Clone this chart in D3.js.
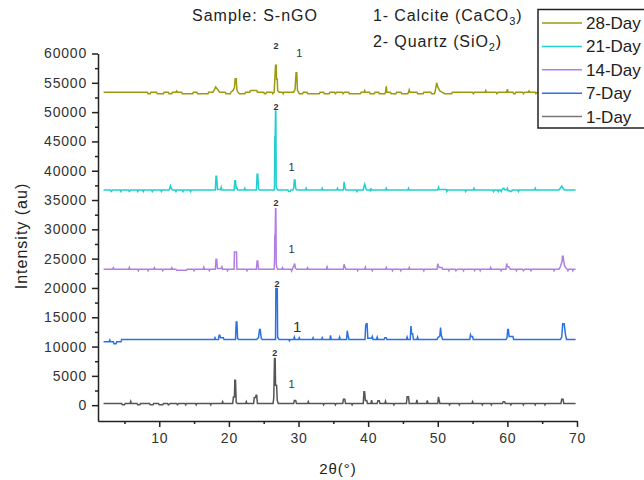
<!DOCTYPE html>
<html>
<head>
<meta charset="utf-8">
<script src="https://cdn.jsdelivr.net/npm/d3@7"></script>
<style>
  html, body { margin: 0; padding: 0; background: #fff; }
  svg { display: block; font-family: Arial, "Liberation Sans", sans-serif; }
</style>
</head>
<body>
<svg id="chart" width="644" height="480"></svg>
<script>
// XRD patterns of sample S-nGO after different curing ages.
// Each series: [2θ (degrees), intensity (a.u., stacked offset included)].
const seriesNames = ["28-Day", "21-Day", "14-Day", "7-Day", "1-Day"];
const seriesColors = ["#9c9a0c", "#22cfd0", "#b27ee2", "#2a72e2", "#555555"];
const legendLineColors = ["#9c9a0c", "#22cfd0", "#b27ee2", "#2a72e2", "#777777"];

const xTicks = [10, 20, 30, 40, 50, 60, 70];
const xMinorTicks = [5, 15, 25, 35, 45, 55, 65];
const yTicks = [0, 5000, 10000, 15000, 20000, 25000, 30000, 35000, 40000, 45000, 50000, 55000, 60000];
const yMinorTicks = [2500, 7500, 12500, 17500, 22500, 27500, 32500, 37500, 42500, 47500, 52500, 57500];

const day28 = [
  [2.0,53400],[8.3,53400],[8.4,53150],[8.7,53150],[8.8,53400],[9.6,53400],[9.7,53150],[10.6,53150],[10.7,53400],
  [11.3,53400],[11.4,53150],[11.8,53150],[11.9,53400],[12.4,53400],[12.5,53600],[12.6,53400],[13.2,53400],[13.3,53150],
  [14.8,53150],[14.9,53400],[15.4,53400],[15.5,53150],[17.0,53150],[17.1,53400],[17.7,53400],[17.9,53800],[18.1,54300],
  [18.3,54000],[18.5,53700],[18.7,53400],[19.5,53400],[19.6,53150],[20.2,53150],[20.3,53400],[20.6,53700],[20.8,54200],
  [20.9,55700],[21.05,55700],[21.15,53800],[21.3,53400],[21.5,53150],[22.3,53150],[22.4,53400],[23.0,53400],[23.1,53700],
  [24.0,53700],[24.1,53400],[25.0,53400],[25.1,53150],[25.3,53150],[25.4,53400],[26.2,53400],[26.3,53150],[26.5,53400],
  [26.6,55600],[26.7,58000],[26.8,58000],[26.85,55600],[26.95,55600],[27.0,53700],[27.2,53400],[27.7,53400],[27.8,53150],
  [27.9,53400],[29.3,53400],[29.5,53900],[29.65,56700],[29.75,56700],[29.85,53700],[30.0,53400],[30.1,53150],[30.6,53150],
  [30.7,53400],[31.2,53400],[31.3,53150],[33.0,53150],[33.1,53400],[33.6,53400],[33.7,53150],[34.4,53150],[34.5,53400],
  [35.2,53400],[35.3,53150],[35.5,53400],[36.3,53400],[36.4,53150],[36.6,53400],[37.2,53400],[37.3,53150],[38.9,53150],
  [39.0,53400],[39.4,53400],[39.5,53700],[39.6,53400],[40.2,53400],[40.3,53150],[40.9,53150],[41.0,53400],[41.5,53400],
  [41.6,53150],[42.4,53150],[42.5,53400],[42.6,54400],[42.7,53400],[43.2,53400],[43.3,53150],[44.0,53150],[44.1,53400],
  [44.7,53400],[44.8,53150],[45.7,53150],[45.8,53400],[45.9,53800],[46.0,53400],[47.0,53400],[47.1,53150],[47.9,53150],
  [48.0,53400],[49.0,53400],[49.1,53150],[49.5,53150],[49.6,53400],[49.85,55000],[50.0,54300],[50.3,53600],[50.6,53400],
  [51.0,53150],[52.0,53150],[52.1,53400],[55.0,53400],[55.1,53150],[55.3,53400],[56.8,53400],[56.9,53700],[57.0,53400],
  [58.4,53400],[58.5,53150],[58.7,53400],[59.9,53400],[60.0,53900],[60.1,53400],[60.8,53400],[60.9,53150],[61.1,53150],
  [61.2,53400],[62.2,53400],[62.3,53150],[62.5,53400],[63.0,53400],[63.1,53600],[63.2,53400],[64.0,53400],[64.1,53150],
  [64.3,53400],[69.8,53400]
];

const day21 = [
  [2.0,36700],[3.0,36700],[3.1,36450],[3.3,36700],[4.4,36700],[4.5,36450],[4.6,36700],[5.6,36700],[5.7,36450],[5.9,36700],
  [6.8,36700],[6.9,36450],[7.0,36700],[7.6,36700],[7.7,36450],[7.8,36700],[8.9,36700],[9.0,36450],[9.1,36700],[10.2,36700],
  [10.3,36450],[10.4,36700],[11.4,36700],[11.5,37000],[11.6,37400],[11.7,37000],[11.9,36700],[12.3,36700],[12.4,36450],
  [12.5,36700],[13.3,36700],[13.4,36450],[13.5,36700],[14.4,36700],[14.5,36450],[14.6,36700],[18.05,36700],[18.15,39070],
  [18.25,39070],[18.35,36800],[18.8,36800],[18.9,37200],[19.0,36700],[20.75,36700],[20.85,38270],[20.95,38270],[21.05,36900],
  [21.15,37300],[21.25,36700],[22.2,36700],[22.3,37000],[22.4,36700],[23.95,36700],[24.05,39400],[24.15,39400],[24.25,36900],
  [24.4,36700],[26.5,36700],[26.55,37400],[26.6,45800],[26.65,45800],[26.7,50200],[26.75,50200],[26.8,37200],[26.9,36900],
  [27.0,36700],[28.5,36700],[28.6,36450],[28.8,36450],[28.9,36700],[29.2,36700],[29.3,37000],[29.4,38400],[29.5,38400],
  [29.6,36900],[29.8,36700],[31.0,36700],[31.1,37000],[31.2,36700],[33.3,36700],[33.4,37000],[33.5,36700],[35.5,36700],
  [35.6,37000],[35.7,36700],[36.45,36700],[36.55,38100],[36.65,37200],[36.8,36700],[38.3,36700],[38.4,36450],[38.5,36700],
  [39.3,36700],[39.4,37300],[39.5,37700],[39.6,37300],[39.7,36900],[39.8,36700],[40.3,36700],[40.35,36450],[40.4,37000],
  [40.5,36700],[42.5,36700],[42.6,37000],[42.7,36700],[45.7,36700],[45.8,37000],[45.9,36700],[50.0,36700],[50.1,37150],
  [50.2,36800],[51.2,36800],[51.3,36450],[51.4,36700],[53.9,36700],[54.0,36450],[54.1,36700],[55.1,36700],[55.2,37000],
  [55.3,36700],[57.9,36700],[58.0,36450],[58.1,36700],[58.6,36700],[58.7,36450],[58.8,36700],[59.0,36700],[59.1,36450],
  [59.2,36700],[59.3,36900],[59.5,37000],[59.6,36750],[59.9,36750],[60.0,37000],[60.1,36600],[60.3,36600],[60.4,36450],
  [60.6,36450],[60.7,36700],[61.5,36700],[61.6,36450],[61.7,36700],[63.9,36700],[64.0,37000],[64.1,36700],[67.4,36700],
  [67.6,37000],[67.8,37400],[68.0,37000],[68.2,36700],[69.8,36700]
];

const day14 = [
  [2.0,23200],[3.3,23200],[3.4,23450],[3.5,23200],[5.6,23200],[5.7,23500],[5.8,23200],[6.9,23200],[7.0,22950],[7.1,23200],
  [8.3,23200],[8.4,22950],[8.5,23200],[9.2,23200],[9.3,23450],[9.4,23200],[10.4,23200],[10.5,22950],[10.6,23200],[11.7,23200],
  [11.8,23450],[11.9,23200],[12.4,23200],[12.5,23000],[13.9,23000],[14.0,23200],[14.9,23200],[15.0,22950],[15.1,23200],
  [16.3,23200],[16.4,23550],[16.5,23200],[17.1,23200],[17.2,22950],[17.3,23200],[18.05,23200],[18.15,24900],[18.25,24900],
  [18.35,23300],[18.9,23300],[19.0,23600],[19.1,23200],[19.7,23200],[19.8,22950],[19.9,23200],[20.75,23200],[20.8,26150],
  [21.1,26150],[21.15,23200],[22.5,23200],[22.6,22950],[22.7,23200],[23.95,23200],[24.05,24600],[24.15,24600],[24.25,23200],
  [26.5,23200],[26.55,24400],[26.6,29000],[26.65,29000],[26.7,33500],[26.75,33500],[26.8,24000],[26.9,23500],[27.0,23200],
  [27.6,23200],[27.7,23450],[27.8,23200],[28.9,23200],[29.0,22900],[29.15,23300],[29.35,23800],[29.45,24170],[29.55,23400],
  [29.7,23200],[31.2,23200],[31.3,23450],[31.4,23200],[34.0,23200],[34.1,23600],[34.2,23200],[36.45,23200],[36.55,24050],
  [36.65,23600],[36.8,23200],[38.4,23200],[38.5,22950],[38.6,23200],[39.5,23200],[39.6,23550],[39.7,23200],[40.5,23200],
  [40.6,22950],[40.7,23200],[42.5,23200],[42.6,23500],[42.7,23200],[43.4,23200],[43.5,22950],[43.6,23200],[44.6,23200],
  [44.7,22950],[44.8,23200],[45.8,23200],[45.9,23500],[46.0,23200],[47.9,23200],[48.0,22950],[48.1,23200],[49.9,23200],
  [50.0,24140],[50.1,23800],[50.2,23500],[50.6,23500],[50.7,23200],[51.5,23200],[51.6,22950],[51.7,23200],[52.5,23200],
  [52.6,22950],[52.8,23200],[53.6,23200],[53.7,22950],[53.8,23200],[55.2,23200],[55.3,22950],[55.4,23200],[56.0,23200],
  [56.1,22950],[56.2,23200],[57.5,23200],[57.6,23500],[57.7,23200],[59.0,23200],[59.1,22950],[59.2,23200],[59.8,23200],
  [59.9,24170],[60.0,23600],[60.2,23600],[60.3,23400],[60.5,23200],[61.2,23200],[61.3,22950],[61.4,23200],[62.2,23200],
  [62.3,22950],[62.5,23200],[63.3,23200],[63.4,22950],[63.5,23200],[66.6,23200],[66.7,22950],[66.8,23200],[67.4,23200],
  [67.6,23600],[67.85,24500],[67.9,25400],[68.0,25400],[68.1,24600],[68.2,23800],[68.4,23400],[68.6,23200],[68.7,22950],
  [68.8,23200],[69.3,23200],[69.4,22950],[69.5,23200],[69.8,23200]
];

const day7 = [
  [2.0,10800],[2.8,10800],[2.9,11100],[3.0,10800],[3.4,10800],[3.5,10500],[3.8,10500],[3.9,10800],[4.5,10800],[4.6,11200],
  [17.9,11200],[18.0,11500],[18.1,11200],[18.5,11200],[18.6,11950],[18.7,11950],[18.8,11500],[19.2,11500],[19.3,11200],
  [20.95,11200],[21.05,14200],[21.15,14200],[21.25,11400],[21.4,11200],[24.0,11200],[24.25,11500],[24.4,12900],[24.5,12900],
  [24.65,11400],[24.8,11200],[26.7,11200],[26.75,19900],[26.95,19900],[27.0,11600],[27.2,11200],[28.6,11200],[28.7,11000],
  [28.8,11200],[29.3,11200],[29.4,11600],[29.5,11200],[30.0,11200],[30.1,11500],[30.2,11200],[32.0,11200],[32.1,11500],
  [32.2,11200],[33.3,11200],[33.4,11500],[33.5,11200],[34.5,11200],[34.6,11900],[34.7,11200],[35.8,11200],[35.9,11600],
  [36.0,11200],[36.9,11200],[37.0,12700],[37.1,12000],[37.25,11200],[39.55,11200],[39.65,13650],[39.75,13900],[39.85,13900],
  [39.95,11400],[40.5,11400],[40.6,11700],[40.7,11200],[41.2,11200],[41.3,11600],[41.4,11200],[42.3,11200],[42.4,11500],
  [42.6,11500],[42.7,11200],[45.5,11200],[45.6,11600],[45.7,11200],[46.05,11200],[46.15,13500],[46.25,12200],[46.4,12200],
  [46.5,11200],[47.0,11200],[47.1,11600],[47.2,11200],[49.9,11200],[50.0,11500],[50.3,11800],[50.4,13250],[50.5,12000],
  [50.7,11200],[54.6,11200],[54.7,12000],[54.8,11700],[55.0,11700],[55.1,11200],[59.8,11200],[59.95,11500],[60.05,12900],
  [60.15,12900],[60.25,11700],[60.8,11700],[60.9,11200],[67.6,11200],[67.8,11600],[67.95,13900],[68.15,13900],[68.25,13000],
  [68.35,12000],[68.5,11200],[69.8,11200]
];

const day1 = [
  [2.0,300],[4.6,300],[4.7,60],[5.0,60],[5.1,300],[5.8,300],[5.9,650],[6.0,300],[6.8,300],[6.9,60],[7.2,60],[7.3,300],
  [8.6,300],[8.7,60],[9.1,60],[9.2,300],[9.9,300],[10.0,60],[10.5,60],[10.6,300],[11.2,300],[11.3,60],[11.6,300],[12.5,300],
  [12.6,60],[12.8,300],[13.7,300],[13.8,60],[13.9,300],[15.2,300],[15.3,60],[15.4,300],[17.3,300],[17.4,60],[17.5,300],
  [19.0,300],[19.1,600],[19.2,300],[20.55,300],[20.65,1400],[20.8,1400],[20.85,4270],[20.95,4270],[21.05,500],[21.2,300],
  [22.4,300],[22.5,600],[22.6,300],[23.55,300],[23.65,1300],[23.85,1300],[23.9,1700],[24.0,1700],[24.1,300],[26.35,300],
  [26.45,1300],[26.55,7950],[26.65,7950],[26.7,3400],[26.85,3400],[26.95,800],[27.1,300],[29.3,300],[29.4,780],[29.6,780],
  [29.7,300],[31.3,300],[31.4,600],[31.5,300],[33.5,300],[33.6,60],[33.7,300],[35.2,300],[35.3,60],[35.4,300],[36.35,300],
  [36.45,1000],[36.65,1000],[36.75,300],[37.6,300],[37.7,60],[37.8,300],[39.3,300],[39.4,2270],[39.5,2270],[39.6,800],
  [39.8,800],[39.9,300],[40.4,300],[40.5,850],[40.6,300],[41.3,300],[41.4,750],[41.6,750],[41.7,300],[42.4,300],[42.5,700],
  [42.6,300],[43.6,300],[43.7,60],[43.8,300],[45.5,300],[45.6,1420],[45.8,1420],[45.9,300],[46.9,300],[47.0,900],[47.1,300],
  [48.4,300],[48.5,800],[48.6,300],[50.0,300],[50.1,1420],[50.2,900],[50.3,300],[51.6,300],[51.7,60],[51.8,300],[53.0,300],
  [53.1,60],[53.2,300],[54.9,300],[55.0,600],[55.1,300],[56.3,300],[56.4,60],[56.5,300],[57.6,300],[57.7,60],[57.8,300],
  [59.3,300],[59.4,600],[59.6,600],[59.7,300],[60.4,300],[60.5,60],[60.6,300],[62.2,300],[62.3,60],[62.4,300],[63.9,300],
  [64.0,60],[64.1,300],[65.3,300],[65.4,60],[65.5,300],[67.7,300],[67.8,1000],[68.0,1000],[68.1,300],[69.8,300]
];

const seriesData = [day28, day21, day14, day7, day1];

// Phase markers: 1 = calcite, 2 = quartz, anchored in (2θ, intensity).
const quartzMarks = [[26.75, 61300], [26.75, 50900], [26.75, 34500], [26.9, 20600], [26.6, 8900]];
const calciteMarks = [[30.1, 60100], [29.0, 40600], [29.0, 26600], [29.8, 13500], [29.0, 3600]];

const svg = d3.select("#chart");
const margin = { left: 98, right: 67, top: 53.5, bottom: 59 };
const W = 644, H = 480;

const x = d3.scaleLinear().domain([1.2, 70]).range([margin.left, W - margin.right]);
const y = d3.scaleLinear().domain([-2700, 60000]).range([H - margin.bottom, margin.top]);

// Series lines
const line = d3.line().x(d => x(d[0])).y(d => y(d[1]));
svg.append("g").selectAll("path")
  .data(seriesData)
  .join("path")
  .attr("d", d => line(d))
  .attr("fill", "none")
  .attr("stroke", (d, i) => seriesColors[i])
  .attr("stroke-width", 1.5)
  .attr("stroke-linejoin", "miter");

// Axes
const axisColor = "#222";
const yAxis = svg.append("g").attr("transform", `translate(${margin.left},0)`)
  .call(d3.axisLeft(y).tickValues(yTicks).tickSize(6).tickSizeOuter(0).tickPadding(5).tickFormat(d3.format("d")));
const yMinor = svg.append("g").attr("transform", `translate(${margin.left},0)`)
  .call(d3.axisLeft(y).tickValues(yMinorTicks).tickSize(3).tickSizeOuter(0).tickFormat(""));
yMinor.select(".domain").remove();

const xAxis = svg.append("g").attr("transform", `translate(0,${H - margin.bottom})`)
  .call(d3.axisBottom(x).tickValues(xTicks).tickSize(6).tickSizeOuter(0).tickPadding(6).tickFormat(d3.format("d")));
const xMinor = svg.append("g").attr("transform", `translate(0,${H - margin.bottom})`)
  .call(d3.axisBottom(x).tickValues(xMinorTicks).tickSize(3).tickSizeOuter(0).tickFormat(""));
xMinor.select(".domain").remove();

[yAxis, yMinor, xAxis, xMinor].forEach(g => {
  g.selectAll(".domain, line").attr("stroke", axisColor).attr("stroke-width", 1.5);
  g.selectAll("text").attr("fill", "#333").style("font-size", "14px").style("letter-spacing", "0.8px")
    .style("font-family", "Arial, 'Liberation Sans', sans-serif");
});

// Axis titles
svg.append("text")
  .attr("transform", `translate(27,236) rotate(-90)`)
  .attr("text-anchor", "middle")
  .style("font-size", "16px").style("letter-spacing", "1px")
  .attr("fill", "#222")
  .text("Intensity (au)");

svg.append("text")
  .attr("x", 338).attr("y", 474)
  .attr("text-anchor", "middle")
  .style("font-size", "15px").style("letter-spacing", "1px")
  .attr("fill", "#222")
  .text("2θ(°)");

// Header texts
svg.append("text").attr("x", 192).attr("y", 21)
  .style("font-size", "16px").style("letter-spacing", "1px").attr("fill", "#222")
  .text("Sample: S-nGO");

const calcite = svg.append("text").attr("x", 373).attr("y", 21)
  .style("font-size", "16px").style("letter-spacing", "0.9px").attr("fill", "#222");
calcite.append("tspan").text("1- Calcite (CaCO");
calcite.append("tspan").attr("dy", 4).style("font-size", "11px").text("3");
calcite.append("tspan").attr("dy", -4).text(")");

const quartz = svg.append("text").attr("x", 373).attr("y", 47)
  .style("font-size", "16px").style("letter-spacing", "0.9px").attr("fill", "#222");
quartz.append("tspan").text("2- Quartz (SiO");
quartz.append("tspan").attr("dy", 4).style("font-size", "11px").text("2");
quartz.append("tspan").attr("dy", -4).text(")");

// Phase labels above peaks
const marks = svg.append("g").attr("fill", "#333").attr("text-anchor", "middle").attr("dominant-baseline", "central");
marks.selectAll("text.q").data(quartzMarks).join("text")
  .attr("class", "q")
  .attr("x", d => x(d[0])).attr("y", d => y(d[1]))
  .style("font-size", "9px").style("font-weight", "bold")
  .text("2");
marks.selectAll("text.c").data(calciteMarks).join("text")
  .attr("class", "c")
  .attr("x", d => x(d[0])).attr("y", d => y(d[1]))
  .style("font-size", (d, i) => i === 3 ? "15px" : "11px")
  .text("1");

// Legend
const legend = svg.append("g");
legend.append("rect")
  .attr("x", 538).attr("y", 9.5).attr("width", 130).attr("height", 118.5)
  .attr("fill", "#fff").attr("stroke", "#222").attr("stroke-width", 1.5);
const rows = legend.selectAll("g.row").data(seriesNames).join("g")
  .attr("class", "row")
  .attr("transform", (d, i) => `translate(0,${23 + i * 23.4})`);
rows.append("line")
  .attr("x1", 542).attr("x2", 582).attr("y1", 0).attr("y2", 0)
  .attr("stroke", (d, i) => legendLineColors[i]).attr("stroke-width", 1.5);
rows.append("text")
  .attr("x", 586).attr("y", 6)
  .style("font-size", "17px").attr("fill", "#222")
  .text(d => d);
</script>
</body>
</html>
